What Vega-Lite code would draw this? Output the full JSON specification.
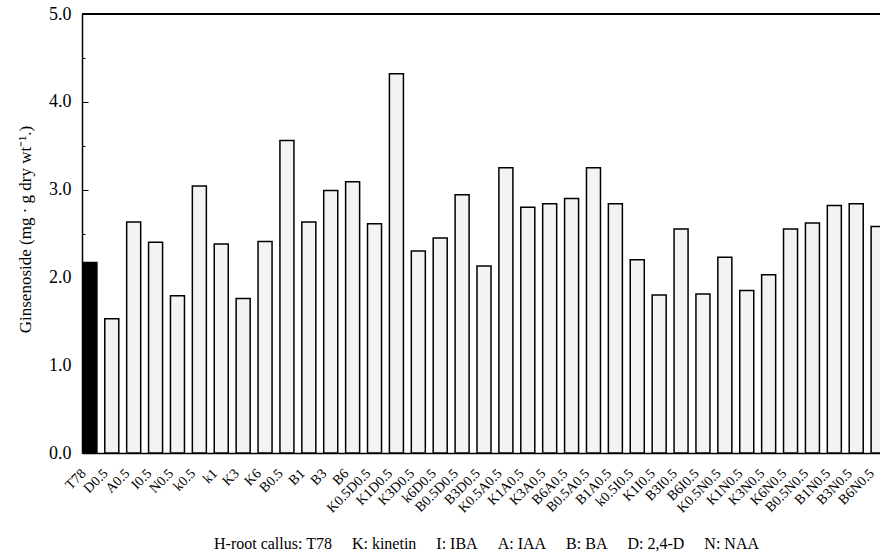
{
  "$schema": "https://vega.github.io/schema/vega-lite/v6.json",
  "autosize": "none",
  "padding": {"left": 82, "top": 14, "right": 0, "bottom": 104},
  "width": 798,
  "height": 439,
  "background": "white",
  "config": {"view": {"stroke": null}, "font": "Liberation Serif"},
  "data": {"values": [
    {"label": "T78", "value": 2.17, "group": "control"},
    {"label": "D0.5", "value": 1.53, "group": "treatment"},
    {"label": "A0.5", "value": 2.63, "group": "treatment"},
    {"label": "I0.5", "value": 2.40, "group": "treatment"},
    {"label": "N0.5", "value": 1.79, "group": "treatment"},
    {"label": "k0.5", "value": 3.04, "group": "treatment"},
    {"label": "k1", "value": 2.38, "group": "treatment"},
    {"label": "K3", "value": 1.76, "group": "treatment"},
    {"label": "K6", "value": 2.41, "group": "treatment"},
    {"label": "B0.5", "value": 3.56, "group": "treatment"},
    {"label": "B1", "value": 2.63, "group": "treatment"},
    {"label": "B3", "value": 2.99, "group": "treatment"},
    {"label": "B6", "value": 3.09, "group": "treatment"},
    {"label": "K0.5D0.5", "value": 2.61, "group": "treatment"},
    {"label": "K1D0.5", "value": 4.32, "group": "treatment"},
    {"label": "K3D0.5", "value": 2.30, "group": "treatment"},
    {"label": "k6D0.5", "value": 2.45, "group": "treatment"},
    {"label": "B0.5D0.5", "value": 2.94, "group": "treatment"},
    {"label": "B3D0.5", "value": 2.13, "group": "treatment"},
    {"label": "K0.5A0.5", "value": 3.25, "group": "treatment"},
    {"label": "K1A0.5", "value": 2.80, "group": "treatment"},
    {"label": "K3A0.5", "value": 2.84, "group": "treatment"},
    {"label": "B6A0.5", "value": 2.90, "group": "treatment"},
    {"label": "B0.5A0.5", "value": 3.25, "group": "treatment"},
    {"label": "B1A0.5", "value": 2.84, "group": "treatment"},
    {"label": "k0.5I0.5", "value": 2.20, "group": "treatment"},
    {"label": "K1I0.5", "value": 1.80, "group": "treatment"},
    {"label": "B3I0.5", "value": 2.55, "group": "treatment"},
    {"label": "B6I0.5", "value": 1.81, "group": "treatment"},
    {"label": "K0.5N0.5", "value": 2.23, "group": "treatment"},
    {"label": "K1N0.5", "value": 1.85, "group": "treatment"},
    {"label": "K3N0.5", "value": 2.03, "group": "treatment"},
    {"label": "K6N0.5", "value": 2.55, "group": "treatment"},
    {"label": "B0.5N0.5", "value": 2.62, "group": "treatment"},
    {"label": "B1N0.5", "value": 2.82, "group": "treatment"},
    {"label": "B3N0.5", "value": 2.84, "group": "treatment"},
    {"label": "B6N0.5", "value": 2.58, "group": "treatment"}
  ]},
  "layer": [
    {
      "mark": {"type": "bar", "stroke": "black", "strokeWidth": 1.5, "clip": true},
      "encoding": {
        "x": {
          "field": "label", "type": "nominal", "sort": null,
          "scale": {"paddingInner": 0.36, "paddingOuter": 0.04, "range": [0, 804]},
          "axis": {
            "title": "H-root callus: T78\u00a0\u00a0\u00a0\u00a0\u00a0K: kinetin\u00a0\u00a0\u00a0\u00a0\u00a0I: IBA\u00a0\u00a0\u00a0\u00a0\u00a0A: IAA\u00a0\u00a0\u00a0\u00a0\u00a0B: BA\u00a0\u00a0\u00a0\u00a0\u00a0D: 2,4-D\u00a0\u00a0\u00a0\u00a0\u00a0N: NAA",
            "titleFont": "Liberation Serif", "titleFontSize": 16, "titleFontWeight": "normal", "titleColor": "black",
            "titleX": 404, "titleY": 95, "titleBaseline": "alphabetic", "titleAnchor": "middle", "titleAlign": "center",
            "labelAngle": -45, "labelAlign": "right", "labelBaseline": "middle",
            "labelFont": "Liberation Serif", "labelFontSize": 14, "labelColor": "black", "labelPadding": 18, "labelOffset": -6,
            "ticks": false, "domainColor": "black", "domainWidth": 1.5, "labelOverlap": false, "labelBound": false
          }
        },
        "y": {
          "field": "value", "type": "quantitative",
          "scale": {"domain": [0, 5], "nice": false, "zero": true},
          "axis": {
            "title": "Ginsenoside (mg\u00a0·\u00a0g dry wt\u207b\u00b9.)",
            "titleFont": "Liberation Serif", "titleFontSize": 17, "titleFontWeight": "normal", "titleColor": "black",
            "titleAngle": 270, "titleX": -57, "titleY": 215, "titleBaseline": "middle", "titleAlign": "center",
            "values": [0, 0.5, 1, 1.5, 2, 2.5, 3, 3.5, 4, 4.5, 5],
            "labelExpr": "datum.value % 1 == 0 ? format(datum.value, '.1f') : ''",
            "labelFont": "Liberation Serif", "labelFontSize": 18, "labelColor": "black",
            "tickSize": {"condition": {"test": "datum.value % 1 == 0", "value": -6}, "value": -3},
            "tickColor": "black", "labelPadding": 17,
            "grid": false, "domainColor": "black", "domainWidth": 1.5
          }
        },
        "color": {
          "field": "group", "type": "nominal",
          "scale": {"domain": ["control", "treatment"], "range": ["#000000", "#f3f3f3"]},
          "legend": null
        }
      }
    },
    {
      "mark": {"type": "rule", "color": "black", "strokeWidth": 1.2},
      "encoding": {"y": {"datum": 5}}
    }
  ]
}
